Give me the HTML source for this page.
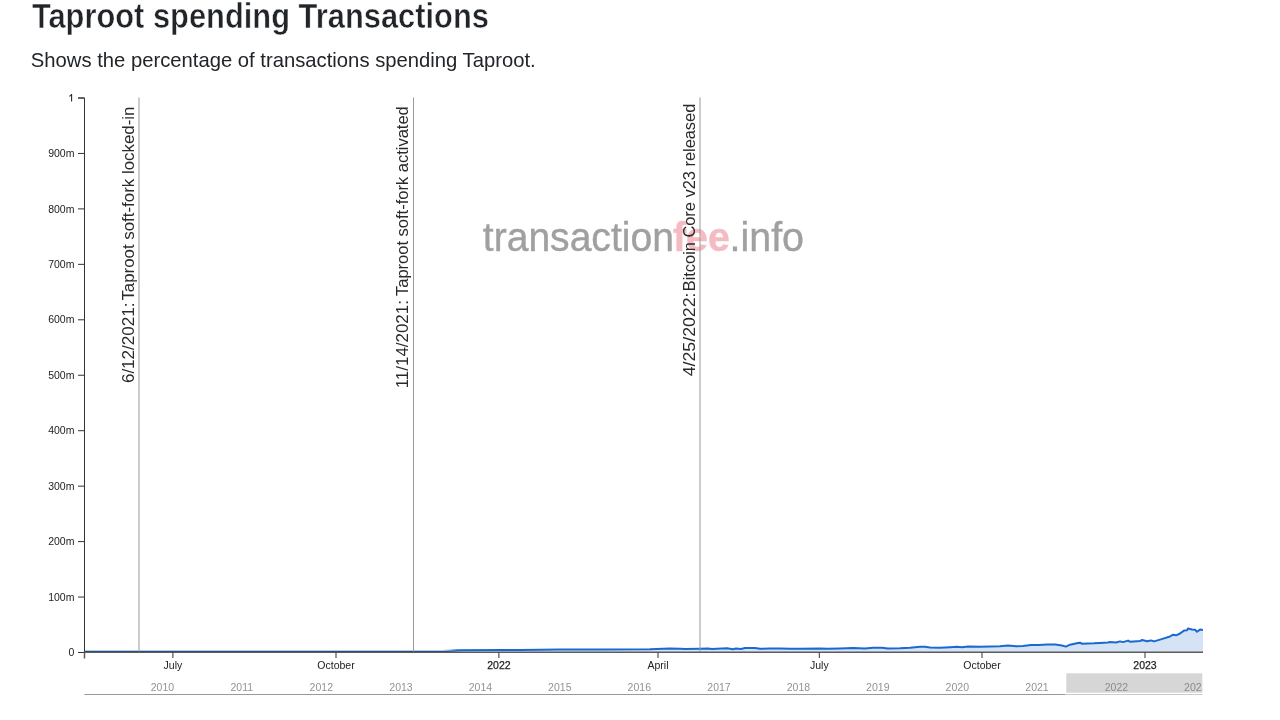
<!DOCTYPE html>
<html><head><meta charset="utf-8"><title>Taproot spending Transactions</title>
<style>
html,body{margin:0;padding:0;background:#fff;}
body{width:1280px;height:720px;overflow:hidden;font-family:"Liberation Sans",sans-serif;}
svg{display:block;font-family:"Liberation Sans",sans-serif;will-change:transform;}
</style></head><body>
<svg width="1280" height="720" viewBox="0 0 1280 720">
<defs><clipPath id="c"><rect x="84.5" y="0" width="1118.5" height="720"/></clipPath><clipPath id="c2"><rect x="84.5" y="0" width="1117.8" height="720"/></clipPath></defs>
<text x="31.9" y="28.1" font-size="34.3" font-weight="bold" fill="#212529" stroke="#fff" stroke-width="0.5" textLength="457" lengthAdjust="spacingAndGlyphs">Taproot spending Transactions</text>
<text x="30.8" y="66.6" font-size="21" fill="#212529" textLength="504.9" lengthAdjust="spacingAndGlyphs">Shows the percentage of transactions spending Taproot.</text>
<text x="482.8" y="251" font-size="40" fill="#a0a0a0" stroke="#a0a0a0" stroke-width="0.4" textLength="191.1" lengthAdjust="spacingAndGlyphs">transaction</text>
<text x="673" y="251" font-size="40" font-weight="bold" fill="#f4bcc2" stroke="#f4bcc2" stroke-width="0.4" textLength="56.8" lengthAdjust="spacingAndGlyphs">fee</text>
<text x="729.5" y="251" font-size="40" fill="#a0a0a0" stroke="#a0a0a0" stroke-width="0.4" textLength="74.5" lengthAdjust="spacingAndGlyphs">.info</text>
<g clip-path="url(#c)"><path d="M84.5,651.1L443,651.1L450,650.7L457.5,650.2L500,650L520,649.9L560,649.6L600,649.4L650,649.2L670,648.4L680,648.8L685,649.1L700,648.8L708,648.5L712,649.1L727,648.3L733,649.3L736,648.5L741,648.9L745,648.0L755,647.9L760,648.8L770,648.5L780,648.4L790,648.8L800,648.8L820,648.4L828,648.8L840,648.4L853,648.0L865,648.4L873,647.8L882,647.8L888,648.4L900,648.3L910,647.7L920,646.8L925,646.8L930,647.6L940,647.7L950,647.2L957,646.8L962,647.2L968,646.4L980,646.8L990,646.5L1000,646.3L1008,645.5L1016,646.25L1023,645.9L1031,645.1L1039,645.1L1047,644.5L1055,644.5L1062,645.5L1066,646.6L1070,644.7L1078,643.1L1080,642.7L1082,643.75L1094,643.3L1100,642.9L1108,642.5L1110,642.1L1116,642.5L1120,641.4L1123,642.1L1128,640.6L1130,641.7L1140,641.1L1142,640L1147,641.25L1151,640.4L1154,641.4L1160,639.6L1170,636.5L1173,634.7L1176,635.3L1180,633.5L1184,630.6L1187,630.2L1188,628.5L1192,629.4L1195,629.8L1197,631.8L1200,629.6L1203,629.9L1203,652L84.5,652Z" fill="#d5e3f5"/><path d="M84.5,651.1L443,651.1L450,650.7L457.5,650.2L500,650L520,649.9L560,649.6L600,649.4L650,649.2L670,648.4L680,648.8L685,649.1L700,648.8L708,648.5L712,649.1L727,648.3L733,649.3L736,648.5L741,648.9L745,648.0L755,647.9L760,648.8L770,648.5L780,648.4L790,648.8L800,648.8L820,648.4L828,648.8L840,648.4L853,648.0L865,648.4L873,647.8L882,647.8L888,648.4L900,648.3L910,647.7L920,646.8L925,646.8L930,647.6L940,647.7L950,647.2L957,646.8L962,647.2L968,646.4L980,646.8L990,646.5L1000,646.3L1008,645.5L1016,646.25L1023,645.9L1031,645.1L1039,645.1L1047,644.5L1055,644.5L1062,645.5L1066,646.6L1070,644.7L1078,643.1L1080,642.7L1082,643.75L1094,643.3L1100,642.9L1108,642.5L1110,642.1L1116,642.5L1120,641.4L1123,642.1L1128,640.6L1130,641.7L1140,641.1L1142,640L1147,641.25L1151,640.4L1154,641.4L1160,639.6L1170,636.5L1173,634.7L1176,635.3L1180,633.5L1184,630.6L1187,630.2L1188,628.5L1192,629.4L1195,629.8L1197,631.8L1200,629.6L1203,629.9" fill="none" stroke="#1969d2" stroke-width="2" stroke-linejoin="round"/></g>
<defs><linearGradient id="gn" x1="84.5" x2="462" y1="0" y2="0" gradientUnits="userSpaceOnUse"><stop offset="0" stop-color="#0e3c78"/><stop offset="0.95" stop-color="#0e3c78"/><stop offset="1" stop-color="#0e3c78" stop-opacity="0"/></linearGradient><linearGradient id="gl" x1="84.5" x2="458" y1="0" y2="0" gradientUnits="userSpaceOnUse"><stop offset="0" stop-color="#a8ccf8"/><stop offset="0.96" stop-color="#a8ccf8"/><stop offset="1" stop-color="#a8ccf8" stop-opacity="0"/></linearGradient></defs>
<rect x="84.5" y="650" width="373.5" height="1" fill="url(#gl)"/>
<rect x="84.5" y="651" width="377.5" height="1" fill="url(#gn)"/>
<line x1="139" y1="97.5" x2="139" y2="652" stroke="#999" stroke-width="1"/>
<text transform="translate(134.2,383.12) rotate(-90)" font-size="16.6" fill="#2a2a2a" textLength="80.73" lengthAdjust="spacingAndGlyphs">6/12/2021:</text>
<text transform="translate(134.2,300.61) rotate(-90)" font-size="16.6" fill="#2a2a2a" textLength="194.00" lengthAdjust="spacingAndGlyphs">Taproot soft-fork locked-in</text>
<line x1="413.5" y1="97.5" x2="413.5" y2="652" stroke="#999" stroke-width="1"/>
<text transform="translate(408.3,388.33) rotate(-90)" font-size="16.6" fill="#2a2a2a" textLength="88.27" lengthAdjust="spacingAndGlyphs">11/14/2021:</text>
<text transform="translate(408.3,296.00) rotate(-90)" font-size="16.6" fill="#2a2a2a" textLength="189.78" lengthAdjust="spacingAndGlyphs">Taproot soft-fork activated</text>
<line x1="700" y1="97.5" x2="700" y2="652" stroke="#999" stroke-width="1"/>
<text transform="translate(694.8,376.28) rotate(-90)" font-size="16.6" fill="#2a2a2a" textLength="83.79" lengthAdjust="spacingAndGlyphs">4/25/2022:</text>
<text transform="translate(694.8,291.28) rotate(-90)" font-size="16.6" fill="#2a2a2a" textLength="187.55" lengthAdjust="spacingAndGlyphs">Bitcoin Core v23 released</text>
<path d="M78,98H84.5V652.5H78" fill="none" stroke="#333" stroke-width="1"/>
<line x1="78" y1="652.5" x2="84.5" y2="652.5" stroke="#333"/>
<text x="74.4" y="656.1" font-size="10.5" text-anchor="end" fill="#222">0</text>
<line x1="78" y1="597.05" x2="84.5" y2="597.05" stroke="#333"/>
<text x="74.4" y="600.65" font-size="10.5" text-anchor="end" fill="#222">100m</text>
<line x1="78" y1="541.6" x2="84.5" y2="541.6" stroke="#333"/>
<text x="74.4" y="545.2" font-size="10.5" text-anchor="end" fill="#222">200m</text>
<line x1="78" y1="486.15" x2="84.5" y2="486.15" stroke="#333"/>
<text x="74.4" y="489.75" font-size="10.5" text-anchor="end" fill="#222">300m</text>
<line x1="78" y1="430.7" x2="84.5" y2="430.7" stroke="#333"/>
<text x="74.4" y="434.3" font-size="10.5" text-anchor="end" fill="#222">400m</text>
<line x1="78" y1="375.25" x2="84.5" y2="375.25" stroke="#333"/>
<text x="74.4" y="378.85" font-size="10.5" text-anchor="end" fill="#222">500m</text>
<line x1="78" y1="319.8" x2="84.5" y2="319.8" stroke="#333"/>
<text x="74.4" y="323.40000000000003" font-size="10.5" text-anchor="end" fill="#222">600m</text>
<line x1="78" y1="264.35" x2="84.5" y2="264.35" stroke="#333"/>
<text x="74.4" y="267.95000000000005" font-size="10.5" text-anchor="end" fill="#222">700m</text>
<line x1="78" y1="208.89999999999998" x2="84.5" y2="208.89999999999998" stroke="#333"/>
<text x="74.4" y="212.49999999999997" font-size="10.5" text-anchor="end" fill="#222">800m</text>
<line x1="78" y1="153.45" x2="84.5" y2="153.45" stroke="#333"/>
<text x="74.4" y="157.04999999999998" font-size="10.5" text-anchor="end" fill="#222">900m</text>
<line x1="78" y1="98.0" x2="84.5" y2="98.0" stroke="#333"/>
<path d="M71.6,101.60V94.10M71.6,94.40C71.1,95.70 70.3,96.10 69.3,96.20" fill="none" stroke="#222" stroke-width="1.05"/>
<path d="M84.5,658.5V652.3H1203" fill="none" stroke="#5c5c5c" stroke-width="1.5"/>
<line x1="172.9" y1="652.5" x2="172.9" y2="658" stroke="#333"/>
<text x="172.9" y="669.2" font-size="10.5" text-anchor="middle" fill="#222">July</text>
<line x1="336.0" y1="652.5" x2="336.0" y2="658" stroke="#333"/>
<text x="336.0" y="669.2" font-size="10.5" text-anchor="middle" fill="#222">October</text>
<line x1="498.9" y1="652.5" x2="498.9" y2="658" stroke="#333"/>
<text x="498.9" y="669.2" font-size="10.5" text-anchor="middle" fill="#222" stroke="#222" stroke-width="0.25">2022</text>
<line x1="658.0" y1="652.5" x2="658.0" y2="658" stroke="#333"/>
<text x="658.0" y="669.2" font-size="10.5" text-anchor="middle" fill="#222">April</text>
<line x1="819.3" y1="652.5" x2="819.3" y2="658" stroke="#333"/>
<text x="819.3" y="669.2" font-size="10.5" text-anchor="middle" fill="#222">July</text>
<line x1="982.0" y1="652.5" x2="982.0" y2="658" stroke="#333"/>
<text x="982.0" y="669.2" font-size="10.5" text-anchor="middle" fill="#222">October</text>
<line x1="1145.0" y1="652.5" x2="1145.0" y2="658" stroke="#333"/>
<text x="1145.0" y="669.2" font-size="10.5" text-anchor="middle" fill="#222" stroke="#222" stroke-width="0.25">2023</text>
<g clip-path="url(#c2)">
<text x="162.4" y="690.8" font-size="10.5" text-anchor="middle" fill="#939393">2010</text>
<text x="241.8" y="690.8" font-size="10.5" text-anchor="middle" fill="#939393">2011</text>
<text x="321.3" y="690.8" font-size="10.5" text-anchor="middle" fill="#939393">2012</text>
<text x="401.0" y="690.8" font-size="10.5" text-anchor="middle" fill="#939393">2013</text>
<text x="480.4" y="690.8" font-size="10.5" text-anchor="middle" fill="#939393">2014</text>
<text x="559.8" y="690.8" font-size="10.5" text-anchor="middle" fill="#939393">2015</text>
<text x="639.3" y="690.8" font-size="10.5" text-anchor="middle" fill="#939393">2016</text>
<text x="719.0" y="690.8" font-size="10.5" text-anchor="middle" fill="#939393">2017</text>
<text x="798.4" y="690.8" font-size="10.5" text-anchor="middle" fill="#939393">2018</text>
<text x="877.8" y="690.8" font-size="10.5" text-anchor="middle" fill="#939393">2019</text>
<text x="957.3" y="690.8" font-size="10.5" text-anchor="middle" fill="#939393">2020</text>
<text x="1037.0" y="690.8" font-size="10.5" text-anchor="middle" fill="#939393">2021</text>
<text x="1116.4" y="690.8" font-size="10.5" text-anchor="middle" fill="#939393">2022</text>
<text x="1195.8" y="690.8" font-size="10.5" text-anchor="middle" fill="#939393">2023</text>
</g>
<line x1="84.5" y1="694.5" x2="1065.5" y2="694.5" stroke="#999"/>
<line x1="1065.5" y1="694.5" x2="1202.5" y2="694.5" stroke="#ccc"/>
<rect x="1066.3" y="673.3" width="136" height="19.4" fill="#777" fill-opacity="0.3"/>
</svg>
</body></html>
